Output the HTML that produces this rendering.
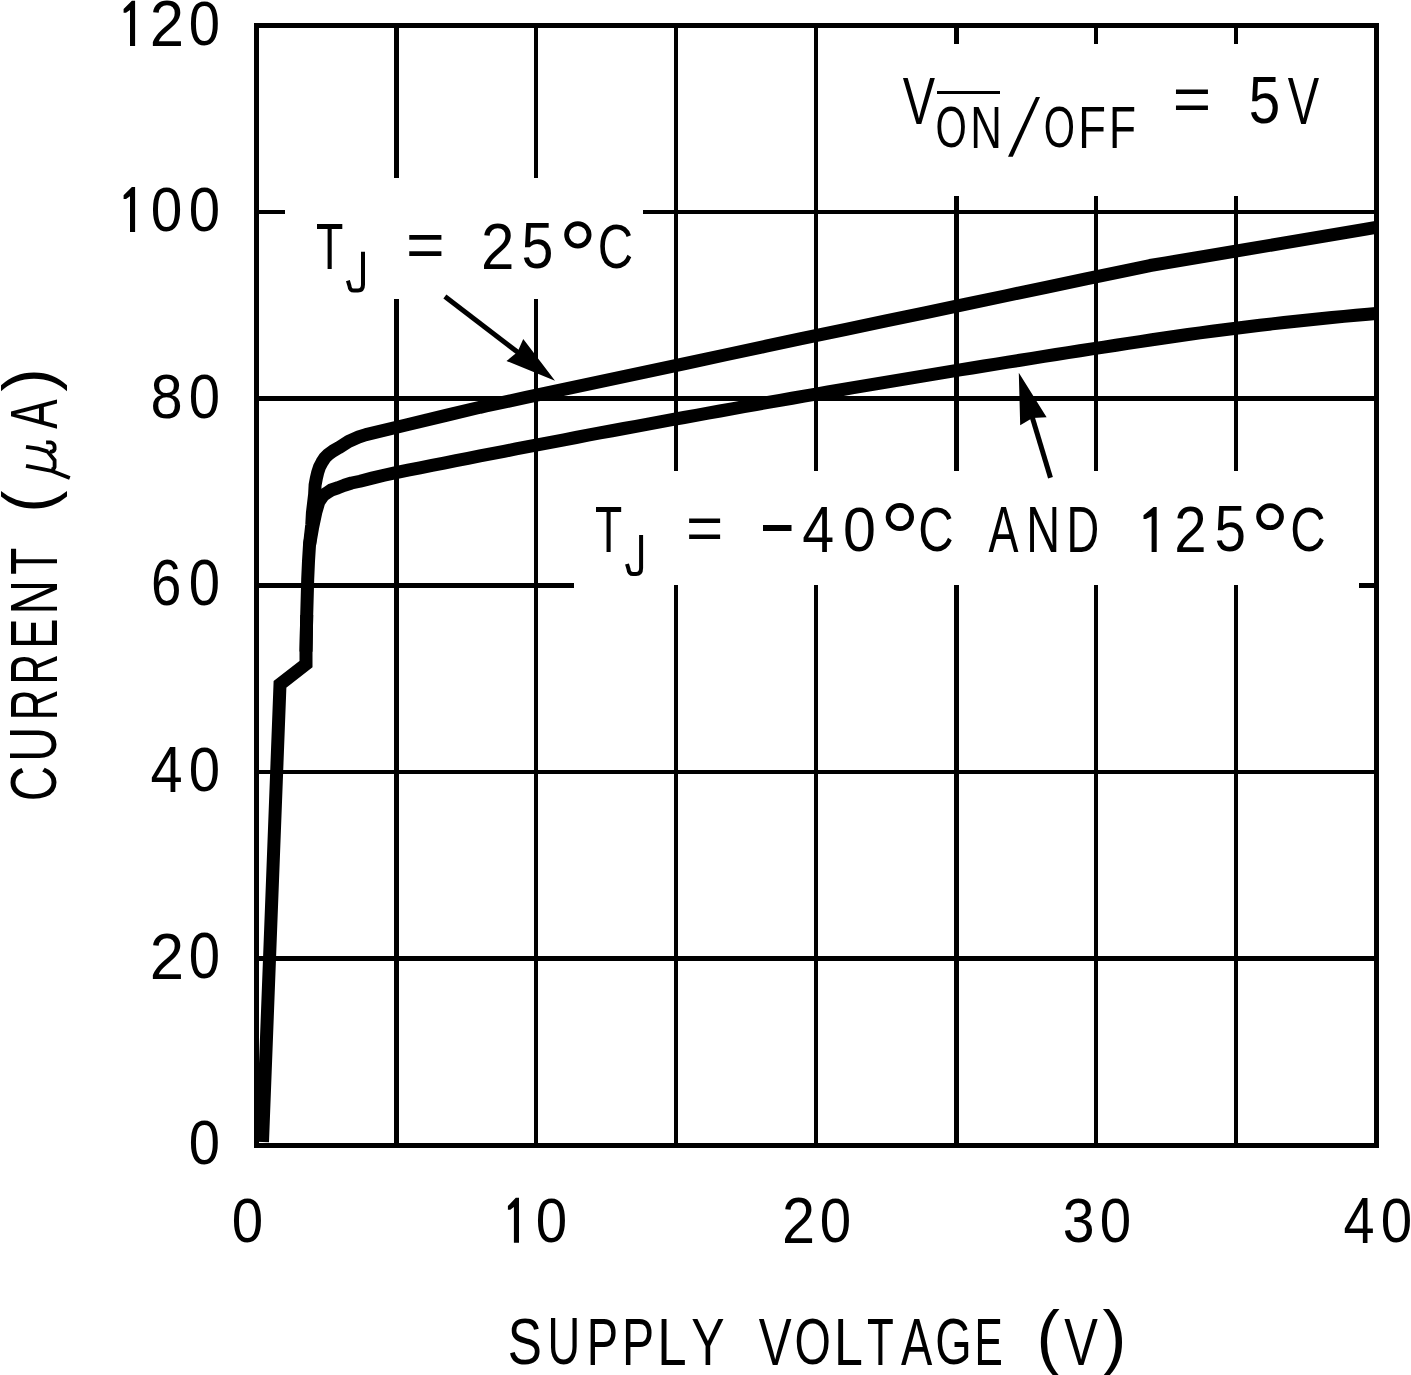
<!DOCTYPE html>
<html><head><meta charset="utf-8"><title>Supply current vs supply voltage</title>
<style>
html,body{margin:0;padding:0;background:#fff;}
svg{display:block;}
text{font-family:"Liberation Sans",sans-serif;font-size:100.0px;fill:#000;}
</style></head><body>
<svg width="1411" height="1375" viewBox="0 0 1411 1375">
<rect x="0" y="0" width="1411" height="1375" fill="#fff"/>
<g fill="#000" shape-rendering="crispEdges"><rect x="254" y="23" width="5" height="1125"/><rect x="394" y="23" width="5" height="155"/><rect x="394" y="299" width="5" height="849"/><rect x="534" y="23" width="4" height="155"/><rect x="534" y="299" width="4" height="849"/><rect x="674" y="23" width="4" height="448"/><rect x="674" y="585" width="4" height="563"/><rect x="814" y="23" width="4" height="448"/><rect x="814" y="585" width="4" height="563"/><rect x="954" y="23" width="5" height="21"/><rect x="954" y="196" width="5" height="275"/><rect x="954" y="585" width="5" height="563"/><rect x="1094" y="23" width="4" height="21"/><rect x="1094" y="196" width="4" height="275"/><rect x="1094" y="585" width="4" height="563"/><rect x="1234" y="23" width="4" height="21"/><rect x="1234" y="196" width="4" height="275"/><rect x="1234" y="585" width="4" height="563"/><rect x="1374" y="23" width="5" height="1125"/><rect x="254" y="23" width="1125" height="5"/><rect x="254" y="210" width="31" height="4"/><rect x="643" y="210" width="736" height="4"/><rect x="254" y="396" width="1125" height="5"/><rect x="254" y="583" width="320" height="5"/><rect x="1359" y="583" width="20" height="5"/><rect x="254" y="770" width="1125" height="4"/><rect x="254" y="956" width="1125" height="5"/><rect x="254" y="1143" width="1125" height="5"/></g>
<defs><clipPath id="pc"><rect x="0" y="0" width="1379" height="1148"/></clipPath></defs><g fill="none" stroke="#000" stroke-width="13" stroke-linejoin="round" stroke-linecap="butt" clip-path="url(#pc)"><path d="M262.5,1142 L279.6,695 L280,684.3 L306,664 L306,652 L306.7,615" stroke-linejoin="miter"/><path d="M306.00,651.60 L306.70,615.20 L307.70,579.20 L308.50,561.30 L309.50,545.00 L311.80,524.40 L312.40,513.00 L313.50,503.80 L314.60,494.50 L315.10,485.00 L316.30,478.50 L317.70,472.50 L319.50,467.00 L321.90,462.40 L325.00,457.60 L328.20,454.50 L333.00,451.00 L338.80,447.70 L348.50,441.50 L358.60,437.00 L366.00,434.60 L406.00,425.01 L446.00,415.43 L480.00,407.28 L486.00,405.99 L526.00,397.45 L566.00,388.91 L606.00,380.37 L646.00,371.83 L686.00,363.29 L726.00,354.75 L766.00,346.21 L800.00,338.95 L806.00,337.69 L846.00,329.30 L886.00,320.91 L926.00,312.52 L966.00,304.13 L1006.00,295.74 L1046.00,287.35 L1086.00,278.95 L1126.00,270.56 L1150.00,265.53 L1166.00,262.83 L1206.00,256.09 L1246.00,249.35 L1286.00,242.61 L1326.00,235.87 L1366.00,229.13 L1376.00,227.44 L1386.00,225.75"/><path d="M309.50,545.00 L312.50,528.00 L315.90,512.00 L318.80,502.00 L323.30,495.30 L327.70,492.40 L331.30,490.00 L338.00,487.80 L344.40,485.30 L351.50,483.00 L360.00,481.24 L372.00,478.14 L384.00,475.28 L396.00,472.67 L408.00,470.24 L420.00,467.84 L432.00,465.44 L444.00,463.06 L456.00,460.69 L468.00,458.32 L480.00,455.97 L492.00,453.63 L504.00,451.29 L516.00,448.97 L528.00,446.66 L540.00,444.35 L552.00,442.06 L564.00,439.77 L576.00,437.50 L588.00,435.23 L600.00,432.98 L612.00,430.74 L624.00,428.50 L636.00,426.28 L648.00,424.06 L660.00,421.86 L672.00,419.66 L684.00,417.48 L696.00,415.30 L708.00,413.14 L720.00,410.98 L732.00,408.84 L744.00,406.70 L756.00,404.58 L768.00,402.46 L780.00,400.36 L792.00,398.26 L804.00,396.17 L816.00,394.10 L828.00,392.03 L840.00,389.97 L852.00,387.92 L864.00,385.89 L876.00,383.86 L888.00,381.84 L900.00,379.83 L912.00,377.82 L924.00,375.83 L936.00,373.85 L948.00,371.88 L960.00,369.91 L972.00,367.96 L984.00,366.01 L996.00,364.08 L1008.00,362.15 L1020.00,360.23 L1032.00,358.33 L1044.00,356.43 L1056.00,354.54 L1068.00,352.66 L1080.00,350.79 L1092.00,348.93 L1104.00,347.08 L1116.00,345.23 L1128.00,343.40 L1140.00,341.58 L1152.00,339.77 L1164.00,337.98 L1176.00,336.24 L1188.00,334.55 L1200.00,332.89 L1212.00,331.28 L1224.00,329.71 L1236.00,328.18 L1248.00,326.70 L1260.00,325.26 L1272.00,323.86 L1284.00,322.50 L1296.00,321.19 L1308.00,319.92 L1320.00,318.69 L1332.00,317.50 L1344.00,316.36 L1356.00,315.26 L1368.00,314.20 L1376.00,313.52 L1386.00,312.69"/></g>
<g fill="#000"><line x1="444.90" y1="296.60" x2="519.08" y2="353.26" stroke="#000" stroke-width="5"/><polygon points="555.00,380.70 506.49,361.01 517.49,352.05 523.25,339.08"/><line x1="1050.50" y1="477.70" x2="1031.88" y2="416.07" stroke="#000" stroke-width="5"/><polygon points="1018.80,372.80 1046.62,417.15 1032.45,417.98 1020.20,425.13"/></g>
<g fill="#000"><polygon points="135.10,0.85 135.10,45.90 130.00,45.90 130.00,10.06 126.00,12.86 123.60,12.86 123.60,9.06 131.90,0.85"/><text transform="matrix(0.61681,0,0,0.64519,149.798,45.900)">2</text><text transform="matrix(0.56273,0,0,0.63629,188.702,45.279)">0</text><polygon points="135.10,186.90 135.10,232.10 130.00,232.10 130.00,196.14 126.00,198.95 123.60,198.95 123.60,195.14 131.90,186.90"/><text transform="matrix(0.56691,0,0,0.63841,150.685,231.477)">0</text><text transform="matrix(0.56273,0,0,0.63841,188.702,231.477)">0</text><text transform="matrix(0.57753,0,0,0.63559,150.390,418.279)">8</text><text transform="matrix(0.56273,0,0,0.63559,188.702,418.279)">0</text><text transform="matrix(0.54613,0,0,0.64547,150.927,604.970)">6</text><text transform="matrix(0.56273,0,0,0.64547,188.702,604.970)">0</text><text transform="matrix(0.57749,0,0,0.65699,150.575,792.000)">4</text><text transform="matrix(0.56273,0,0,0.63841,188.702,791.377)">0</text><text transform="matrix(0.61681,0,0,0.65450,149.798,978.700)">2</text><text transform="matrix(0.56273,0,0,0.64547,188.702,978.070)">0</text><text transform="matrix(0.56273,0,0,0.63276,188.702,1164.082)">0</text><text transform="matrix(0.56482,0,0,0.63559,231.694,1242.179)">0</text><polygon points="519.00,1197.80 519.00,1242.80 513.90,1242.80 513.90,1207.00 510.30,1209.80 507.90,1209.80 507.90,1206.00 515.80,1197.80"/><text transform="matrix(0.56482,0,0,0.63559,535.794,1242.179)">0</text><text transform="matrix(0.59486,0,0,0.64448,781.908,1242.800)">2</text><text transform="matrix(0.56482,0,0,0.63559,819.794,1242.179)">0</text><text transform="matrix(0.57158,0,0,0.63559,1062.723,1242.179)">3</text><text transform="matrix(0.56482,0,0,0.63559,1099.794,1242.179)">0</text><text transform="matrix(0.55764,0,0,0.65408,1343.620,1242.800)">4</text><text transform="matrix(0.56482,0,0,0.63559,1380.794,1242.179)">0</text><text transform="matrix(0.51243,0,0,0.65536,507.873,1364.360)">S</text><text transform="matrix(0.45257,0,0,0.66499,547.509,1364.351)">U</text><text transform="matrix(0.46972,0,0,0.67443,586.847,1365.000)">P</text><text transform="matrix(0.48100,0,0,0.67443,621.954,1365.000)">P</text><text transform="matrix(0.52844,0,0,0.67443,657.165,1365.000)">L</text><text transform="matrix(0.49916,0,0,0.67443,691.203,1365.000)">Y</text><text transform="matrix(0.49225,0,0,0.67443,758.784,1365.000)">V</text><text transform="matrix(0.46732,0,0,0.65536,794.387,1364.360)">O</text><text transform="matrix(0.51937,0,0,0.67443,833.940,1365.000)">L</text><text transform="matrix(0.43860,0,0,0.67443,867.015,1365.000)">T</text><text transform="matrix(0.46902,0,0,0.67443,901.108,1365.000)">A</text><text transform="matrix(0.46873,0,0,0.65536,935.343,1364.360)">G</text><text transform="matrix(0.42436,0,0,0.67443,974.519,1365.000)">E</text><text transform="matrix(0.50440,0,0,0.67443,1064.278,1365.000)">V</text><text transform="matrix(0.70152,0,0,0.71916,1036.450,1361.111)">(</text><text transform="matrix(0.72038,0,0,0.71916,1102.378,1361.111)">)</text><text transform="matrix(0,-0.48950,0.64971,0,56.366,801.286)">C</text><text transform="matrix(0,-0.48426,0.65926,0,56.356,761.736)">U</text><text transform="matrix(0,-0.42947,0.66862,0,57.000,720.223)">R</text><text transform="matrix(0,-0.42274,0.66862,0,57.000,684.468)">R</text><text transform="matrix(0,-0.45204,0.66862,0,57.000,648.708)">E</text><text transform="matrix(0,-0.47441,0.66862,0,57.000,614.592)">N</text><text transform="matrix(0,-0.44214,0.66862,0,57.000,574.793)">T</text><text transform="matrix(0,-0.44187,0.66862,0,57.000,428.686)">A</text><text transform="matrix(0,-0.66004,0.70843,0,52.333,512.493)">(</text><text transform="matrix(0,-0.70907,0.70843,0,52.333,391.815)">)</text><path d="M26,446.8 L38,448.6 L48,451.6 M46.1,442.4 L50.5,442.3 Q54.6,443.5 54.6,447 L54.6,449.2 Q54,451.6 50,451.8 M47.6,451.6 L54.6,460.2 L54.6,467 Q54,469.2 51.5,469.6 M26,465.9 L42.6,469.2 L52,471 L69.8,478" fill="none" stroke="#000" stroke-width="3.8"/><text transform="matrix(0.44745,0,0,0.65408,315.895,269.000)">T</text><path d="M363.00,251.70 L363.00,284.60 Q363.00,290.60 358.00,290.60 L353.90,290.60 Q349.90,290.60 349.40,285.60 L347.90,280.60" fill="none" stroke="#000" stroke-width="4"/><text transform="matrix(0.66277,0,0,0.63922,405.964,267.337)">=</text><text transform="matrix(0.60145,0,0,0.64448,480.975,269.000)">2</text><text transform="matrix(0.57369,0,0,0.64493,521.503,268.370)">5</text><ellipse cx="577.85" cy="234.85" rx="11.25" ry="11.25" fill="none" stroke="#000" stroke-width="4.8"/><text transform="matrix(0.48950,0,0,0.63559,597.714,268.379)">C</text><text transform="matrix(0.44568,0,0,0.65408,594.899,552.000)">T</text><path d="M641.10,535.00 L641.10,568.00 Q641.10,574.00 636.10,574.00 L633.00,574.00 Q629.00,574.00 628.50,569.00 L627.00,564.00" fill="none" stroke="#000" stroke-width="4"/><text transform="matrix(0.63807,0,0,0.62992,685.884,549.881)">=</text><rect x="763" y="525" width="28.5" height="6"/><text transform="matrix(0.57352,0,0,0.65408,802.184,552.000)">4</text><text transform="matrix(0.59202,0,0,0.63559,842.987,551.379)">0</text><ellipse cx="899.85" cy="517.00" rx="11.75" ry="11.60" fill="none" stroke="#000" stroke-width="4.8"/><text transform="matrix(0.48950,0,0,0.63559,918.214,551.379)">C</text><text transform="matrix(0.44941,0,0,0.65408,988.612,552.000)">A</text><text transform="matrix(0.46903,0,0,0.65408,1026.352,552.000)">N</text><text transform="matrix(0.45248,0,0,0.65408,1066.488,552.000)">D</text><polygon points="1156.70,507.00 1156.70,552.00 1151.60,552.00 1151.60,516.20 1145.90,519.00 1143.50,519.00 1143.50,515.20 1153.50,507.00"/><text transform="matrix(0.58169,0,0,0.64448,1174.274,552.000)">2</text><text transform="matrix(0.56526,0,0,0.64493,1214.437,551.370)">5</text><ellipse cx="1270.05" cy="516.65" rx="11.45" ry="10.95" fill="none" stroke="#000" stroke-width="4.8"/><text transform="matrix(0.48950,0,0,0.63559,1290.214,551.379)">C</text><text transform="matrix(0.48465,0,0,0.66862,902.787,124.000)">V</text><rect x="937" y="91" width="63" height="3"/><text transform="matrix(0.40286,0,0,0.57909,935.592,147.434)">O</text><text transform="matrix(0.43860,0,0,0.59013,970.202,147.600)">N</text><polygon points="1008,156.8 1012.8,156.8 1040,96.9 1035.9,96.9"/><text transform="matrix(0.40140,0,0,0.57909,1043.699,147.434)">O</text><text transform="matrix(0.45216,0,0,0.59013,1078.191,147.600)">F</text><text transform="matrix(0.44193,0,0,0.59013,1108.975,147.600)">F</text><text transform="matrix(0.65865,0,0,0.62061,1172.784,121.424)">=</text><text transform="matrix(0.56526,0,0,0.65926,1248.737,123.356)">5</text><text transform="matrix(0.47098,0,0,0.66862,1287.793,124.000)">V</text></g>
</svg>
</body></html>
